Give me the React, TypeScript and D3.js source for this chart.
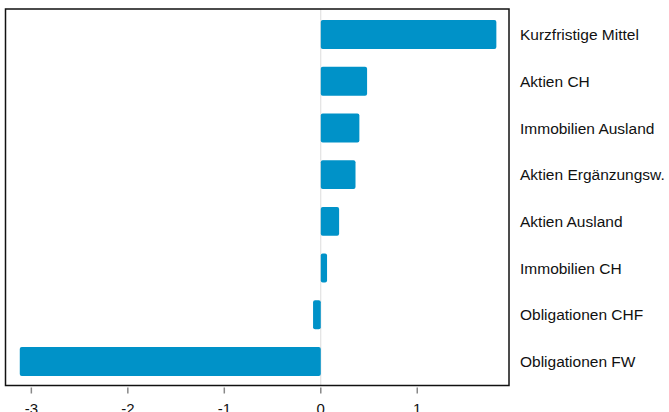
import React from "react";
import * as d3 from "d3";

const categories = [
  "Kurzfristige Mittel",
  "Aktien CH",
  "Immobilien Ausland",
  "Aktien Ergänzungsw.",
  "Aktien Ausland",
  "Immobilien CH",
  "Obligationen CHF",
  "Obligationen FW",
];
const values = [1.82, 0.48, 0.4, 0.36, 0.19, 0.065, -0.08, -3.12];
const tickValues = [-3, -2, -1, 0, 1];

const W = 669;
const H = 412;
const box = { left: 5.5, right: 509, top: 9, bottom: 385.5 };

export default function App() {
  const x = d3.scaleLinear().domain([-3.268, 1.951]).range([box.left, box.right]);
  const y = d3
    .scaleBand<string>()
    .domain(categories)
    .range([20, 376])
    .paddingInner(0.38)
    .paddingOuter(0);
  const color = "#0092C8";
  const font = "'Liberation Sans', Arial, sans-serif";
  return (
    <svg
      width={W}
      height={H}
      style={{ position: "absolute", left: 0, top: 0, display: "block" }}
      fontFamily={font}
    >
      <rect x={0} y={0} width={W} height={H} fill="#fff" />
      <line
        x1={x(0)}
        x2={x(0)}
        y1={box.top}
        y2={box.bottom}
        stroke="#dcdcdc"
        strokeWidth={1}
      />
      {categories.map((c, i) => {
        const v = values[i];
        const x0 = x(Math.min(0, v));
        const x1 = x(Math.max(0, v));
        return (
          <rect
            key={c}
            x={x0}
            y={y(c)!}
            width={x1 - x0}
            height={y.bandwidth()}
            rx={2}
            ry={2}
            fill={color}
          />
        );
      })}
      <rect
        x={box.left}
        y={box.top}
        width={box.right - box.left}
        height={box.bottom - box.top}
        fill="none"
        stroke="#111"
        strokeWidth={1.5}
      />
      {tickValues.map((t) => (
        <g key={t} transform={`translate(${x(t)},${box.bottom})`}>
          <line y1={2} y2={8} stroke="#888" strokeWidth={1.5} />
          <text y={28} textAnchor="middle" fontSize={15} fill="#111">
            {t}
          </text>
        </g>
      ))}
      {categories.map((c) => (
        <text
          key={c}
          x={520}
          y={y(c)! + y.bandwidth() / 2}
          dy="0.36em"
          fontSize={15.5}
          fill="#111"
        >
          {c}
        </text>
      ))}
    </svg>
  );
}
